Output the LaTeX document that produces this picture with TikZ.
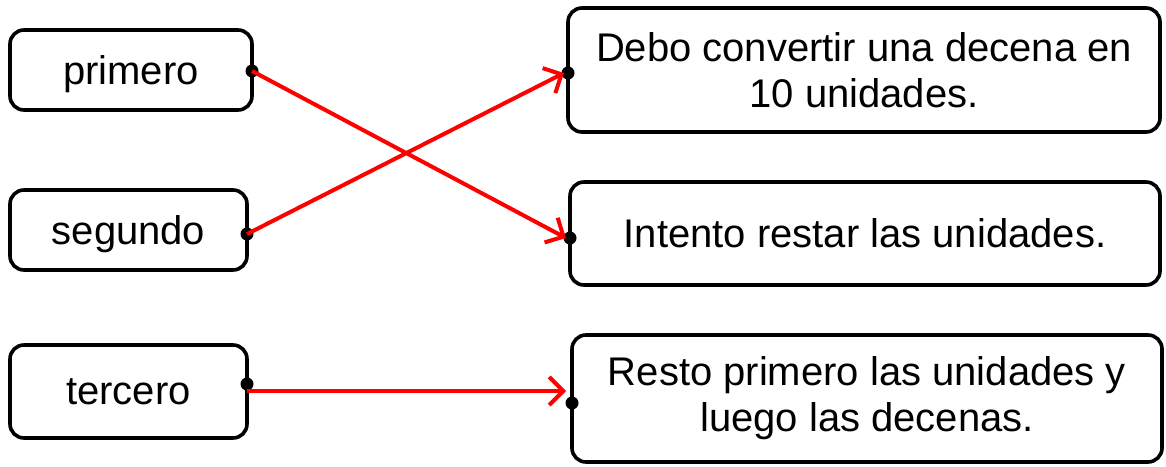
\documentclass[tikz,border=0pt]{standalone}
\usepackage{fontspec}
\setmainfont{Liberation Sans}
\usetikzlibrary{arrows.meta}
\begin{document}
\begin{tikzpicture}[x=1pt,y=-1pt,
  box/.style={draw=black, line width=3.6pt, rounded corners=14pt, inner sep=0pt, align=center,
    font=\fontsize{40}{46}\selectfont},
  word/.style={box, text depth=0pt},
  dot/.style={circle, fill=black, inner sep=0pt, minimum size=13pt},
  link/.style={draw=red, line width=4pt, -{Straight Barb[length=14pt,width=28pt,line width=4pt]}}]
\useasboundingbox (0,0) rectangle (1166,466);
% left boxes
\node[word, minimum width=242pt, minimum height=80pt] (b1) at (131,70) {primero};
\node[word, minimum width=237pt, minimum height=80pt] (b2) at (128.5,230) {segundo};
\node[word, minimum width=237pt, minimum height=93pt] (b3) at (128.5,391.5) {tercero};
% right boxes
\node[box, minimum width=592pt, minimum height=124pt] (r1) at (864,70) {Debo convertir una decena en\\10 unidades.};
\node[box, minimum width=590pt, minimum height=103pt] (r2) at (865,233.5) {Intento restar las unidades.};
\node[box, minimum width=590pt, minimum height=127pt] (r3) at (867,398.5) {Resto primero las unidades y\\luego las decenas.};
% dots
\node[dot] (d1) at (252,71) {};
\node[dot] (d2) at (247,234) {};
\node[dot] (d3) at (247,384) {};
\node[dot] (e1) at (568,73) {};
\node[dot] (e2) at (570,238) {};
\node[dot] (e3) at (572,403) {};
% connectors
\draw[link] (d1.center) -- ([xshift=-4pt]e2.center);
\draw[link] (d2.center) -- ([xshift=-4pt]e1.center);
\coordinate (t3) at (566,391);
\draw[link] (d3.center |- t3) -- (t3);
\end{tikzpicture}
\end{document}
